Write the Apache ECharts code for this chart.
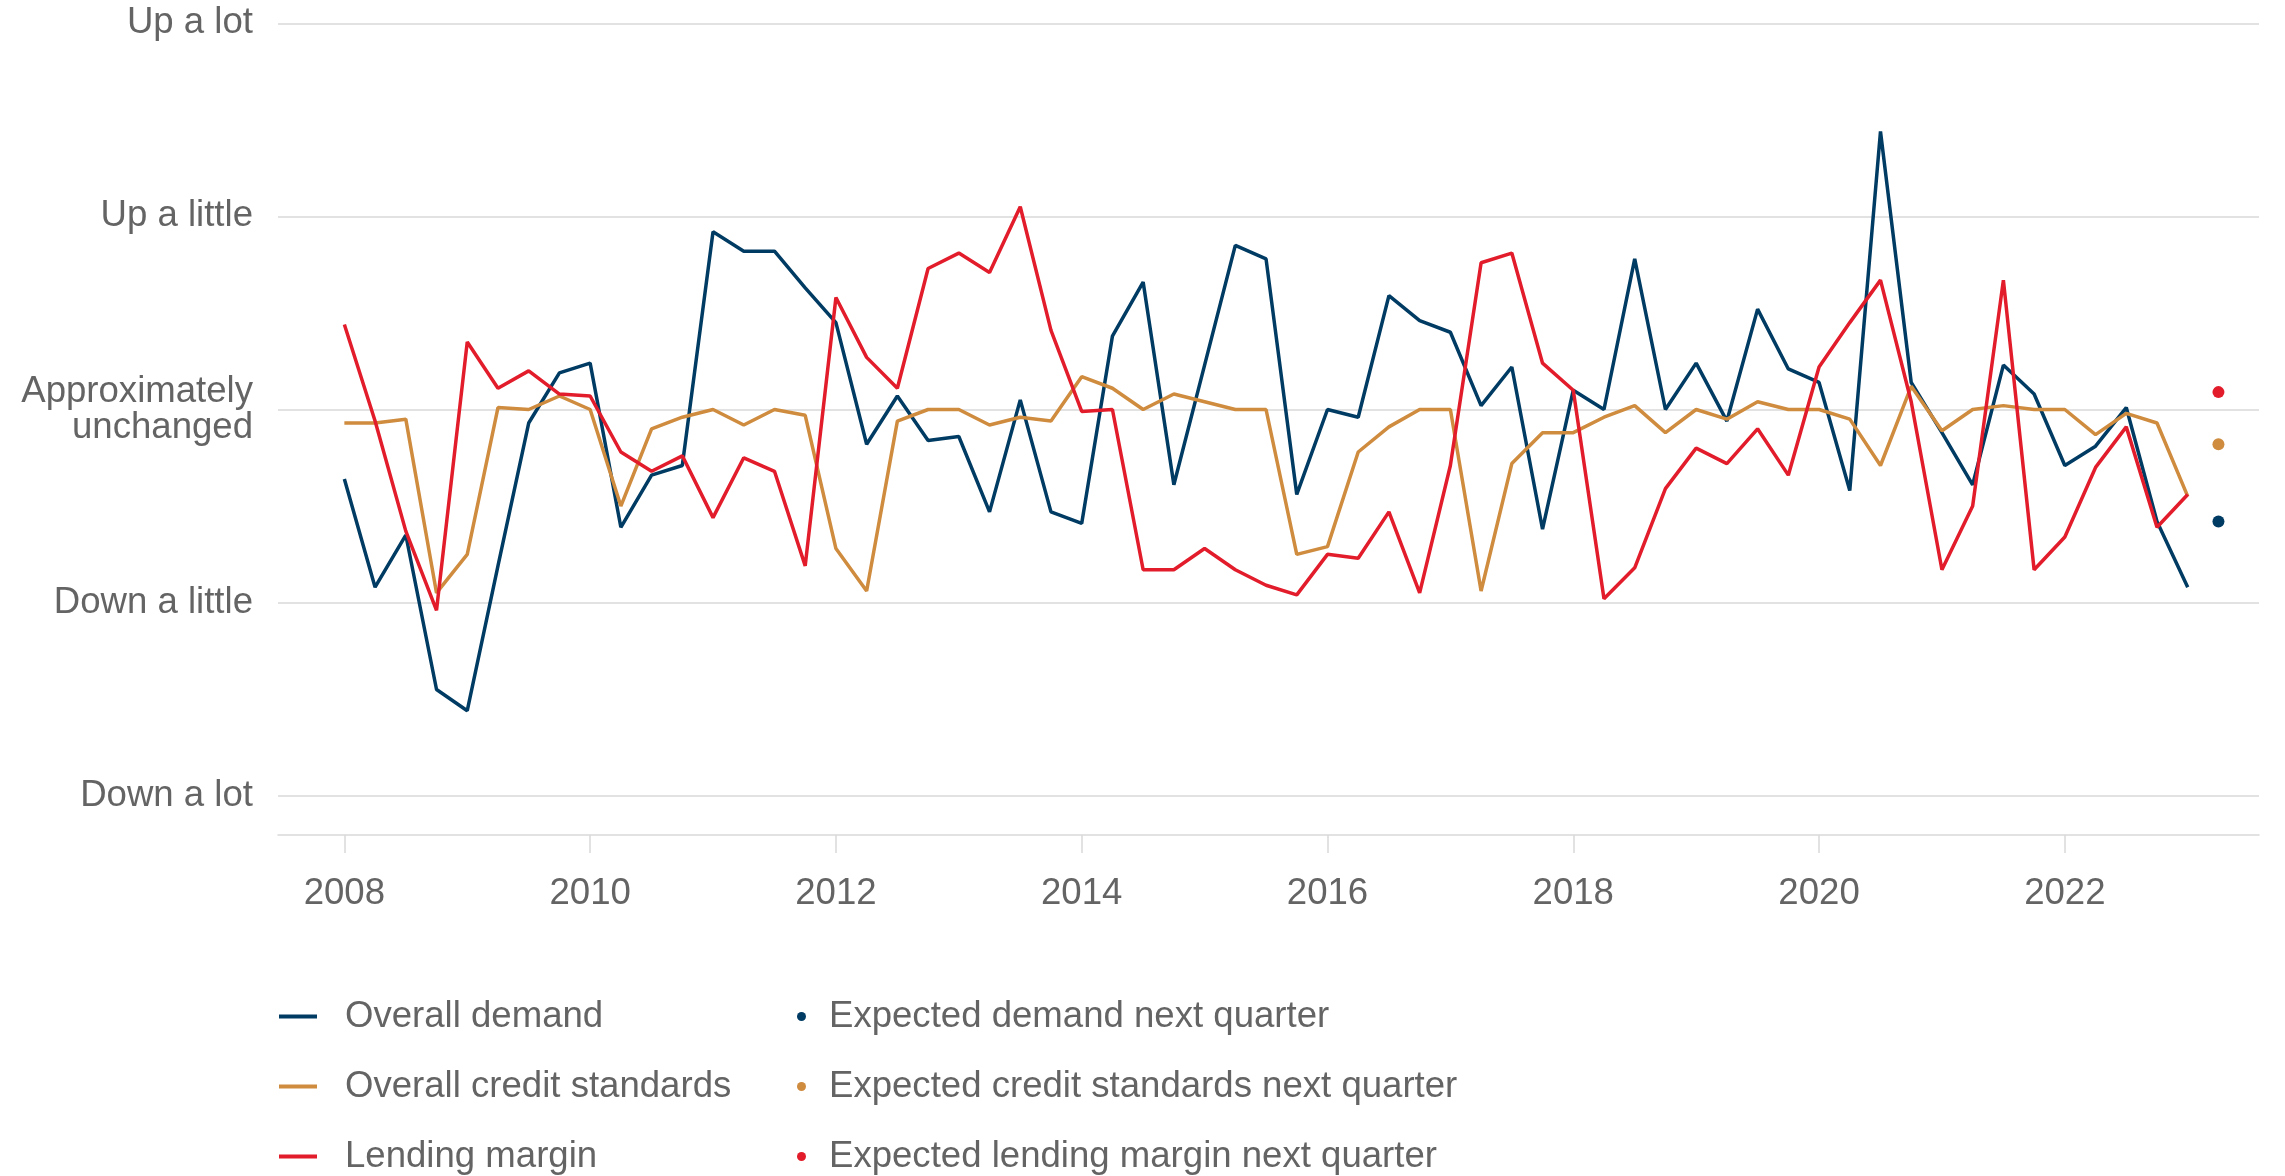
<!DOCTYPE html>
<html>
<head>
<meta charset="utf-8">
<script src="https://cdn.jsdelivr.net/npm/echarts@6/dist/echarts.min.js"></script>
<style>
html,body{margin:0;padding:0;background:#fff;}
#chart{width:2285px;height:1176px;}
</style>
</head>
<body>
<div id="chart"></div>
<script>
// Quarterly survey responses, 2008 Q1 .. 2023 Q1 (net balance, -2 = Down a lot .. 2 = Up a lot)
const startYear = 2008;
const yearTicks = [2008, 2010, 2012, 2014, 2016, 2018, 2020, 2022];
const levelLabels = ['Down a lot', 'Down a little', 'Approximately\nunchanged', 'Up a little', 'Up a lot'];
const levelValues = [-2, -1, 0, 1, 2];

const overallDemand = [
  -0.36, -0.92, -0.65, -1.45, -1.56, -0.81, -0.07, 0.19,
   0.24, -0.61, -0.34, -0.29,  0.92,  0.82,  0.82, 0.63,
   0.45, -0.18,  0.07, -0.16, -0.14, -0.53,  0.05, -0.53,
  -0.59,  0.38,  0.66, -0.39,  0.23,  0.85,  0.78, -0.44,
   0.00, -0.04,  0.59,  0.46,  0.40,  0.02,  0.22, -0.62,
   0.10,  0.00,  0.78,  0.00,  0.24, -0.06,  0.52,  0.21,
   0.14, -0.42,  1.44,  0.14, -0.12, -0.39,  0.23,  0.08,
  -0.29, -0.19,  0.01, -0.58, -0.92
];
const creditStandards = [
  -0.07, -0.07, -0.05, -0.95, -0.75,  0.01,  0.00,  0.07,
   0.00, -0.50, -0.10, -0.04,  0.00, -0.08,  0.00, -0.03,
  -0.72, -0.94, -0.06,  0.00,  0.00, -0.08, -0.04, -0.06,
   0.17,  0.11,  0.00,  0.08,  0.04,  0.00,  0.00, -0.75,
  -0.71, -0.22, -0.09,  0.00,  0.00, -0.94, -0.28, -0.12,
  -0.12, -0.04,  0.02, -0.12,  0.00, -0.05,  0.04,  0.00,
   0.00, -0.05, -0.29,  0.12, -0.11,  0.00,  0.02,  0.00,
   0.00, -0.13, -0.02, -0.07, -0.45
];
const lendingMargin = [
   0.44, -0.06, -0.63, -1.04,  0.35,  0.11,  0.20,  0.08,
   0.07, -0.22, -0.32, -0.24, -0.56, -0.25, -0.32, -0.81,
   0.58,  0.27,  0.11,  0.73,  0.81,  0.71,  1.05,  0.41,
  -0.01,  0.00, -0.83, -0.83, -0.72, -0.83, -0.91, -0.96,
  -0.75, -0.77, -0.53, -0.95, -0.29,  0.76,  0.81,  0.24,
   0.10, -0.98, -0.82, -0.41, -0.20, -0.28, -0.10, -0.34,
   0.22,  0.45,  0.67,  0.04, -0.83, -0.50,  0.67, -0.83,
  -0.66, -0.30, -0.09, -0.61, -0.44
];
// Expectations for next quarter (2023 Q2)
const expectedQuarter = '2023 Q2';
const expectedDemand = -0.58;
const expectedCredit = -0.18;
const expectedMargin = 0.09;

const names = {
  demand: 'Overall demand',
  credit: 'Overall credit standards',
  margin: 'Lending margin',
  eDemand: 'Expected demand next quarter',
  eCredit: 'Expected credit standards next quarter',
  eMargin: 'Expected lending margin next quarter'
};
const colors = { demand: '#003b63', credit: '#cf8b3e', margin: '#e21c2a' };

function quarterToX(label) { // "2023 Q2" -> 2023.25
  const [y, q] = label.split(' Q');
  return Number(y) + (Number(q) - 1) / 4;
}
function toSeries(arr) {
  return arr.map((v, i) => [startYear + i / 4, v]);
}

const font = '"Liberation Sans", Arial, sans-serif';
const textColor = '#646464';
const gridColor = '#d9d9d9';
const fs = 36.6;

const chart = echarts.init(document.getElementById('chart'), null, { renderer: 'canvas' });
chart.setOption({
  animation: false,
  backgroundColor: '#ffffff',
  textStyle: { fontFamily: font },
  grid: { left: 278, right: 26, top: 23.3, bottom: 380.3, containLabel: false },
  xAxis: {
    type: 'value',
    min: 2007.46,
    max: 2023.58,
    offset: 39.3,
    axisLine: { show: true, onZero: false, lineStyle: { color: gridColor, width: 1.5 } },
    axisTick: { show: true, customValues: yearTicks, length: 18, lineStyle: { color: gridColor, width: 1.5 } },
    axisLabel: { customValues: yearTicks, formatter: v => String(v), fontSize: fs, color: textColor, margin: 40, fontFamily: font },
    splitLine: { show: false }
  },
  yAxis: {
    type: 'value',
    min: -2,
    max: 2,
    interval: 1,
    axisLine: { show: false },
    axisTick: { show: false },
    splitLine: { show: true, lineStyle: { color: gridColor, width: 1.5 } },
    axisLabel: {
      formatter: v => { const k = levelValues.indexOf(Math.round(v)); return k >= 0 ? levelLabels[k] : ''; },
      fontSize: fs, color: textColor, margin: 25, lineHeight: 36, align: 'right', fontFamily: font,
      padding: [6, 0, 0, 0]
    }
  },
  legend: [
    {
      orient: 'vertical', left: 279, top: 998, padding: 0, height: 300,
      itemWidth: 38, itemHeight: 4, itemGap: 33, icon: 'rect',
      textStyle: { fontSize: fs, color: textColor, fontFamily: font, lineHeight: 37, padding: [0, 0, 0, 23] },
      data: [names.demand, names.credit, names.margin]
    },
    {
      orient: 'vertical', left: 797, top: 998, padding: 0, height: 300,
      itemWidth: 9, itemHeight: 9, itemGap: 33, icon: 'circle',
      textStyle: { fontSize: fs, color: textColor, fontFamily: font, lineHeight: 37, padding: [0, 0, 0, 18] },
      data: [names.eDemand, names.eCredit, names.eMargin]
    }
  ],
  series: [
    { name: names.demand, type: 'line', data: toSeries(overallDemand), showSymbol: false, symbol: 'none',
      lineStyle: { color: colors.demand, width: 3.5 }, itemStyle: { color: colors.demand } },
    { name: names.credit, type: 'line', data: toSeries(creditStandards), showSymbol: false, symbol: 'none',
      lineStyle: { color: colors.credit, width: 3.5 }, itemStyle: { color: colors.credit } },
    { name: names.margin, type: 'line', data: toSeries(lendingMargin), showSymbol: false, symbol: 'none',
      lineStyle: { color: colors.margin, width: 3.5 }, itemStyle: { color: colors.margin } },
    { name: names.eDemand, type: 'scatter', symbolSize: 12, itemStyle: { color: colors.demand, opacity: 1 },
      data: [[quarterToX(expectedQuarter), expectedDemand]] },
    { name: names.eCredit, type: 'scatter', symbolSize: 12, itemStyle: { color: colors.credit, opacity: 1 },
      data: [[quarterToX(expectedQuarter), expectedCredit]] },
    { name: names.eMargin, type: 'scatter', symbolSize: 12, itemStyle: { color: colors.margin, opacity: 1 },
      data: [[quarterToX(expectedQuarter), expectedMargin]] }
  ]
});
</script>
</body>
</html>
